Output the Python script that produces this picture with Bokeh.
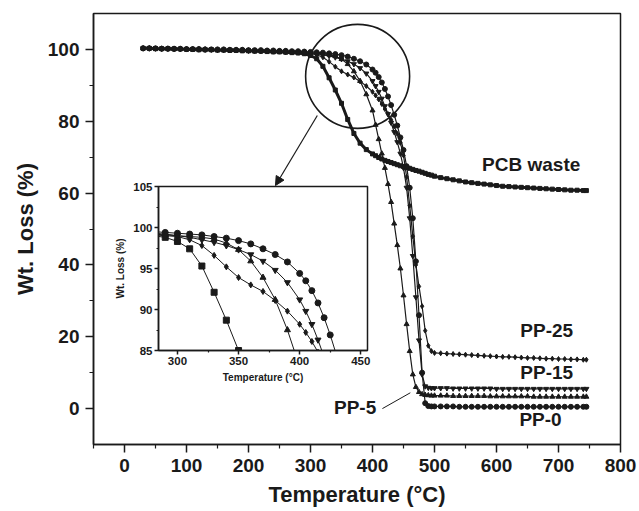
from bokeh.plotting import figure
from bokeh.layouts import column
from bokeh.models import Range1d, Arrow, NormalHead, Label, FixedTicker
from bokeh.embed import file_html
from bokeh.resources import INLINE

FONT = "Liberation Sans"
INK = "#1a1a1a"

# Temperature (°C) at which each thermogram was sampled
temp = [30, 40, 50, 60, 70, 80, 90, 100, 110, 120, 130, 140, 150, 160, 170, 180, 190,
        200, 210, 220, 230, 240, 250, 260, 270, 280, 290, 300, 310, 320, 330, 340, 350,
        360, 370, 380, 390,
        400, 405, 410, 415, 420, 425, 430, 435, 440, 445, 450, 455, 460, 465, 470, 475,
        480, 485, 490, 495, 500,
        510, 520, 530, 540, 550, 560, 570, 580, 590, 600, 610, 620, 630, 640, 650, 660,
        670, 680, 690, 700, 710, 720, 730, 740, 745]

# Residual weight (%) of each sample
pcb_waste = [100.3, 100.3, 100.2, 100.2, 100.2, 100.1, 100.1, 100.0, 100.0, 99.9, 99.9, 99.9,
             99.8, 99.8, 99.7, 99.7, 99.6, 99.6, 99.5, 99.5, 99.4, 99.3, 99.3, 99.2, 99.1,
             99.0, 98.8,
             98.3, 97.4, 95.3, 92.1, 88.7, 85.0, 80.5, 76.6, 73.9, 72.1,
             70.9, 70.4, 69.9, 69.5, 69.1, 68.8, 68.5, 68.2, 67.9, 67.6, 67.4, 67.1, 66.9,
             66.6, 66.3, 66.1, 65.8, 65.5, 65.2, 65.0, 64.7,
             64.3, 64.0, 63.7, 63.4, 63.1, 62.9, 62.7, 62.5, 62.3, 62.1, 61.9, 61.8, 61.7,
             61.6, 61.5, 61.4, 61.3, 61.2, 61.1, 61.0, 60.9, 60.8, 60.8, 60.7, 60.7]
pp_0 = [100.3, 100.3, 100.3, 100.2, 100.2, 100.2, 100.2, 100.1, 100.1, 100.1, 100.0, 100.0,
        100.0, 100.0, 99.9, 99.9, 99.9, 99.8, 99.8, 99.8, 99.7, 99.7, 99.6, 99.6, 99.5,
        99.5, 99.4,
        99.3, 99.2, 99.1, 98.9, 98.7, 98.4, 98.0, 97.4, 96.7, 95.8,
        94.4, 93.5, 92.3, 90.8, 89.0, 86.9, 84.5, 81.8, 78.8, 75.5, 72.0, 67.5, 61.5,
        53.0, 41.0, 26.0, 10.0, 1.5, 0.7, 0.6, 0.6,
        0.6, 0.6, 0.6, 0.5, 0.5, 0.5, 0.5, 0.5, 0.5, 0.5, 0.5, 0.5, 0.5, 0.5, 0.5, 0.5,
        0.5, 0.5, 0.5, 0.5, 0.5, 0.5, 0.5, 0.5, 0.5]
pp_5 = [100.3, 100.3, 100.2, 100.2, 100.2, 100.1, 100.1, 100.1, 100.0, 100.0, 100.0, 99.9,
        99.9, 99.9, 99.8, 99.8, 99.7, 99.7, 99.6, 99.6, 99.5, 99.5, 99.4, 99.4, 99.3,
        99.2, 99.1,
        99.0, 98.9, 98.8, 98.6, 98.1, 97.3, 95.9, 93.9, 91.2, 87.5,
        83.0, 79.0, 75.0, 71.0, 67.0, 62.5, 57.5, 51.5, 45.5, 39.0, 31.5, 23.5, 16.0,
        9.5, 6.0, 4.6, 4.0, 3.8, 3.7, 3.6, 3.6,
        3.6, 3.6, 3.5, 3.5, 3.5, 3.5, 3.5, 3.5, 3.4, 3.4, 3.4, 3.4, 3.4, 3.4, 3.4, 3.3,
        3.3, 3.3, 3.3, 3.3, 3.3, 3.3, 3.3, 3.3, 3.3]
pp_15 = [100.3, 100.3, 100.3, 100.2, 100.2, 100.2, 100.1, 100.1, 100.1, 100.0, 100.0, 100.0,
         99.9, 99.9, 99.9, 99.8, 99.8, 99.7, 99.7, 99.6, 99.6, 99.5, 99.5, 99.4, 99.4,
         99.3, 99.2,
         99.0, 98.8, 98.5, 98.2, 97.8, 97.3, 96.7, 95.9, 94.8, 93.3,
         91.2, 89.8, 88.2, 86.3, 84.2, 82.0, 79.6, 77.0, 74.2, 71.0, 67.0, 61.5, 53.0,
         42.5, 31.0, 19.0, 9.5, 6.2, 5.8, 5.7, 5.7,
         5.7, 5.7, 5.6, 5.6, 5.6, 5.6, 5.6, 5.6, 5.6, 5.5, 5.5, 5.5, 5.5, 5.5, 5.5, 5.5,
         5.5, 5.5, 5.5, 5.5, 5.5, 5.5, 5.5, 5.5, 5.5]
pp_25 = [100.3, 100.3, 100.2, 100.2, 100.2, 100.1, 100.1, 100.0, 100.0, 100.0, 99.9, 99.9,
         99.9, 99.8, 99.8, 99.7, 99.7, 99.6, 99.6, 99.5, 99.5, 99.4, 99.4, 99.3, 99.2,
         99.1, 99.0,
         98.9, 98.5, 97.8, 96.6, 95.2, 93.9, 93.0, 92.2, 91.1, 89.8,
         88.2, 87.2, 86.1, 84.8, 83.4, 82.0, 80.4, 78.6, 76.5, 74.0, 70.5, 64.5, 56.5,
         48.0, 40.0, 34.0, 28.5, 21.7, 17.5, 16.0, 15.5,
         15.4, 15.3, 15.2, 15.1, 15.0, 14.9, 14.8, 14.7, 14.6, 14.5, 14.4, 14.4, 14.3,
         14.2, 14.1, 14.1, 14.0, 13.9, 13.9, 13.8, 13.8, 13.7, 13.7, 13.6, 13.6]

series = [
    ("PCB waste", pcb_waste, "square"),
    ("PP-0", pp_0, "circle"),
    ("PP-5", pp_5, "triangle"),
    ("PP-15", pp_15, "inverted_triangle"),
    ("PP-25", pp_25, "diamond"),
]

# Curve labels: (text, temperature, weight)
curve_labels = [
    ("PCB waste", 656, 67.9),
    ("PP-25", 681, 21.7),
    ("PP-15", 681, 10.0),
    ("PP-5", 372, 0.3),
    ("PP-0", 671, -3.1),
]

x_ticks = [0, 100, 200, 300, 400, 500, 600, 700, 800]
x_minor = [-50, 50, 150, 250, 350, 450, 550, 650, 750]
y_ticks = [0, 20, 40, 60, 80, 100]
y_minor = [10, 30, 50, 70, 90]

inset_x_ticks = [300, 350, 400, 450]
inset_x_minor = [325, 375, 425]
inset_y_ticks = [85, 90, 95, 100, 105]
inset_y_minor = [87.5, 92.5, 97.5, 102.5]

# side borders of the main plot; plots stacked in a column share them
BORDER_L, BORDER_R = 93, 19


def style_axes(fig, tick_size, label_size, tick_out, minor_out, standoff, label_standoff):
    for ax in (fig.xaxis[0], fig.yaxis[0]):
        ax.axis_line_color = INK
        ax.axis_line_width = 1.5
        ax.major_tick_line_color = INK
        ax.major_tick_line_width = 1.5
        ax.minor_tick_line_color = INK
        ax.minor_tick_line_width = 1.2
        ax.major_tick_in = 0
        ax.major_tick_out = tick_out
        ax.minor_tick_in = 0
        ax.minor_tick_out = minor_out
        ax.major_label_text_font = FONT
        ax.major_label_text_font_style = "bold"
        ax.major_label_text_font_size = tick_size
        ax.major_label_text_color = INK
        ax.major_label_standoff = standoff
        ax.axis_label_text_font = FONT
        ax.axis_label_text_font_style = "bold"
        ax.axis_label_text_font_size = label_size
        ax.axis_label_text_color = INK
        ax.axis_label_standoff = label_standoff
    fig.xgrid.visible = False
    fig.ygrid.visible = False
    fig.outline_line_color = INK
    fig.outline_line_width = 1.5


# ---- main thermogram ----
main = figure(width=639, height=511,
              x_range=Range1d(-50, 800), y_range=Range1d(-10, 110),
              min_border_left=BORDER_L, min_border_right=BORDER_R, min_border_top=13,
              min_border_bottom=67, output_backend="svg", toolbar_location=None,
              x_axis_label="Temperature (°C)", y_axis_label="Wt. Loss (%)")
main.xaxis.ticker = FixedTicker(ticks=x_ticks, minor_ticks=x_minor)
main.yaxis.ticker = FixedTicker(ticks=y_ticks, minor_ticks=y_minor)
style_axes(main, "19px", "22px", 8, 4, 6, 7)

for name, w, marker in series:
    lw = 3 if name == "PCB waste" else 1.2
    main.line(temp, w, line_color=INK, line_width=lw)
    main.scatter(temp, w, marker=marker, size=5 if name != "PCB waste" else 4,
                 fill_color=INK, line_color=INK)

for text, tx, wy in curve_labels:
    main.add_layout(Label(x=tx, y=wy, text=text, text_align="center",
                          text_baseline="middle", text_font=FONT,
                          text_font_style="bold", text_font_size="19px",
                          text_color=INK))

# leader from the PP-5 label to its curve
main.segment(x0=[416], y0=[0.0], x1=[461], y1=[4.4], line_color=INK, line_width=1)

# circle around the onset region, and the arrow to the enlarged view
main.circle(x=[376], y=[92.5], radius=52, radius_units="screen",
            fill_alpha=0, line_color=INK, line_width=1.6)
main.add_layout(Arrow(x_start=311, y_start=81.6, x_end=243.5, y_end=62.1,
                      line_color=INK, line_width=1.2,
                      end=NormalHead(size=9, fill_color=INK, line_color=INK)))

# ---- enlarged onset region ----
inset_frame_w, inset_frame_h = 209, 167
inset_w = BORDER_L + inset_frame_w + BORDER_R
inset_h = 6 + inset_frame_h + 32
inset = figure(width=inset_w, height=inset_h,
               x_range=Range1d(284.5, 455.5), y_range=Range1d(85, 105),
               min_border_left=BORDER_L, min_border_right=BORDER_R, min_border_top=6,
               min_border_bottom=32, output_backend="svg", toolbar_location=None,
               x_axis_label="Temperature (°C)", y_axis_label="Wt. Loss (%)")
inset.xaxis.ticker = FixedTicker(ticks=inset_x_ticks, minor_ticks=inset_x_minor)
inset.yaxis.ticker = FixedTicker(ticks=inset_y_ticks, minor_ticks=inset_y_minor)
style_axes(inset, "11.5px", "10px", 4, 2, 2, 4)
inset.background_fill_color = "white"
inset.border_fill_alpha = 0

for name, w, marker in series:
    inset.line(temp, w, line_color=INK, line_width=1)
    inset.scatter(temp, w, marker=marker, size=6, fill_color=INK, line_color=INK)

inset.styles = {"position": "absolute", "left": f"{158 - BORDER_L}px", "top": "180px",
                "width": f"{inset_w}px", "height": f"{inset_h}px"}

p = column(main, inset, styles={"position": "relative"})

open("out.html", "w").write(file_html(p, INLINE))
